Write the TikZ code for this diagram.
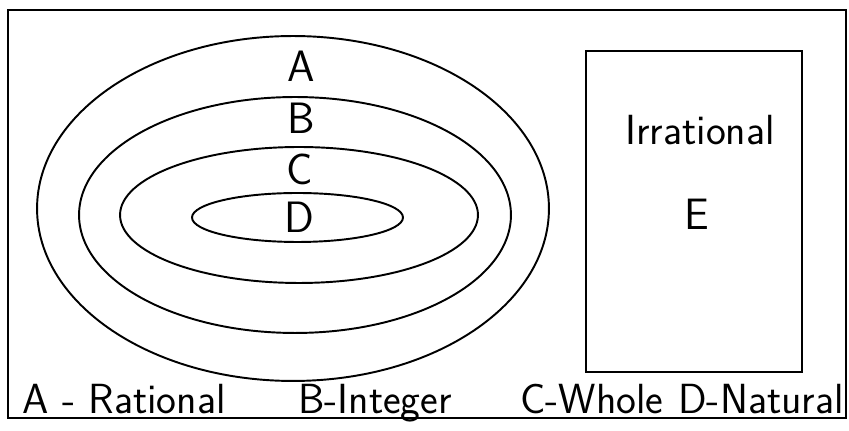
\documentclass[tikz,border=0pt]{standalone}
\usepackage{tikz}
\usetikzlibrary{shapes.geometric}
\usepackage{xcolor}
\definecolor{penink}{HTML}{000000}
\tikzset{
  setring/.style={
    ellipse,
    draw=penink,
    line width=1.1pt,
    inner sep=0pt
  },
  setletter/.style={
    font=\sffamily\fontsize{25}{25}\selectfont,
    text=penink,
    inner sep=0pt
  },
  keylabel/.style={
    font=\sffamily\fontsize{24}{24}\selectfont,
    text=penink,
    inner sep=0pt,
    anchor=base
  }
}
\begin{document}
\begin{tikzpicture}[x=0.02cm,y=-0.02cm]
  \useasboundingbox (0,0) rectangle (849,431);
  \draw[penink, line width=1.1pt] (8,10) rectangle (846,418);
  % nested sets
  \node[setring, minimum width=10.24cm, minimum height=6.9cm] (rational) at (293,208.5) {};
  \node[setring, minimum width=8.64cm, minimum height=4.72cm] (integer) at (295,215) {};
  \node[setring, minimum width=7.16cm, minimum height=2.72cm] (whole) at (299,215) {};
  \node[setring, minimum width=4.22cm, minimum height=0.98cm] (natural) at (297.5,217.5) {};
  \node[setletter] (lettA) at (301,66) {A};
  \node[setletter] (lettB) at (301,118) {B};
  \node[setletter] (lettC) at (300,169) {C};
  \node[setletter] (lettD) at (299,217) {D};
  % irrational box
  \node[draw=penink, line width=1.1pt, minimum width=4.32cm, minimum height=6.42cm, inner sep=0pt] (irrational) at (694,211.5) {};
  \node[keylabel] (irrtext) at (700,145) {Irrational};
  \node[setletter] (lettE) at (697,214) {E};
  % key
  \node[keylabel] (keyA) at (124,414) {A - Rational};
  \node[keylabel] (keyB) at (375,414) {B-Integer};
  \node[keylabel] (keyC) at (592,414) {C-Whole};
  \node[keylabel] (keyD) at (761,414) {D-Natural};
\end{tikzpicture}
\end{document}
